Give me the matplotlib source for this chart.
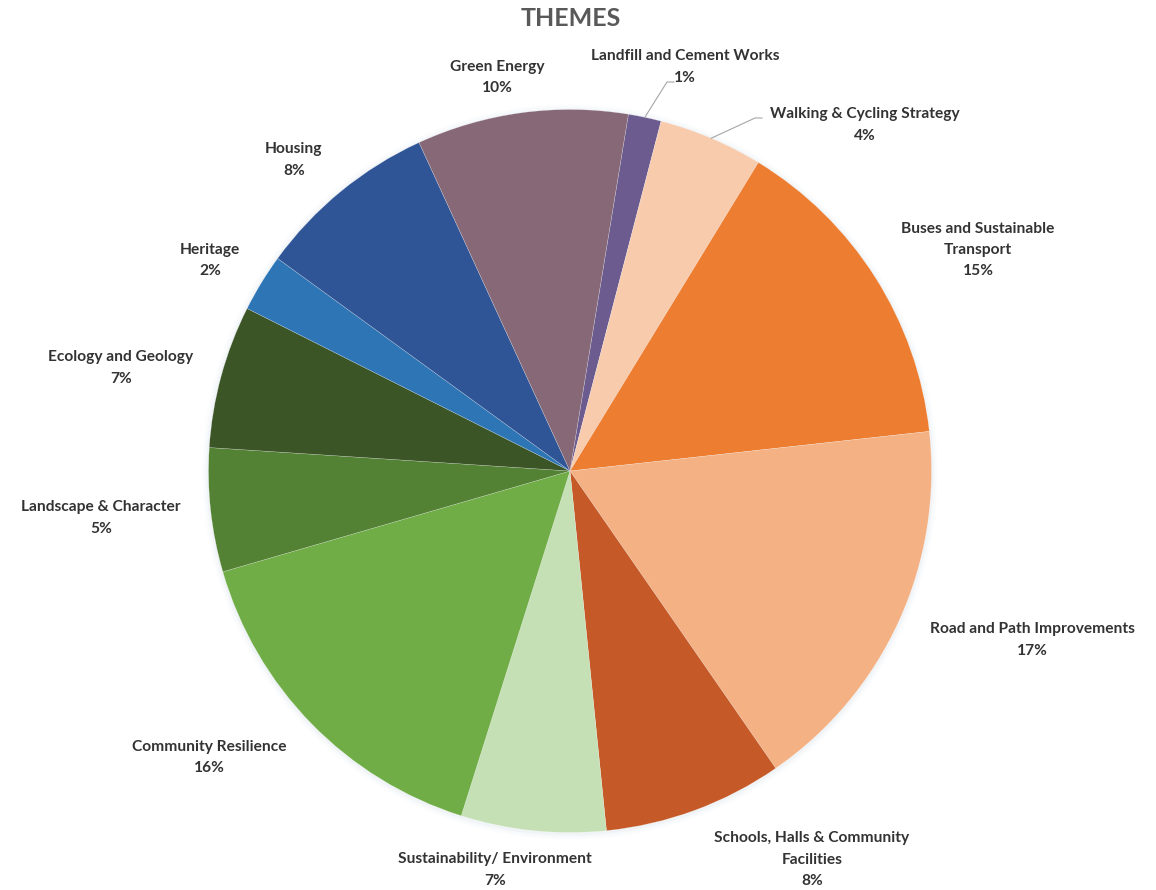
import numpy as np
import matplotlib
matplotlib.use("Agg")
import matplotlib.pyplot as plt

# ---- data (order clockwise from top) ----
categories = [
    "Landfill and Cement Works",
    "Walking & Cycling Strategy",
    "Buses and Sustainable\nTransport",
    "Road and Path Improvements",
    "Schools, Halls & Community\nFacilities",
    "Sustainability/ Environment",
    "Community Resilience",
    "Landscape & Character",
    "Ecology and Geology",
    "Heritage",
    "Housing",
    "Green Energy",
]
shares = [1.47, 4.67, 14.53, 17.11, 8.03, 6.47, 15.64, 5.53, 6.39, 2.58, 8.14, 9.44]
pct_labels = ["1%", "4%", "15%", "17%", "8%", "7%", "16%", "5%", "7%", "2%", "8%", "10%"]
colors = ["#6B5B8E", "#F8CBAD", "#ED7D31", "#F4B183", "#C55A28", "#C5E0B4",
          "#70AD47", "#548235", "#3B5526", "#2E75B6", "#2F5597", "#866877"]

# ---- layout (pixel positions, y measured from top) ----
W, H = 1156, 890
cx, cy, R = 570, 471, 361.5
start_offset = 9.3  # degrees clockwise from 12 o'clock where first slice starts
label_pos = [(685, 67), (865, 125), (978, 250), (1032, 640), (812, 859.5),
             (495, 870), (209, 757.5), (101, 518), (121, 368), (210, 260.5),
             (294, 160), (497, 77.5)]
leader_elbows = {0: [(667, 82), (674, 82)], 1: [(755, 118), (762, 118)]}

FONT = ["Lato", "DejaVu Sans"]
TXT = "#333333"

fig = plt.figure(figsize=(W / 100, H / 100), dpi=100)
ax = fig.add_axes([0, 0, 1, 1])
ax.set_xlim(0, W)
ax.set_ylim(0, H)
ax.set_aspect("equal")
ax.axis("off")

# soft shadow
for k, a in zip([6, 4, 2], [0.03, 0.04, 0.06]):
    ax.add_patch(plt.Circle((cx, H - cy - 1), R + k, color="#9fb3c8", alpha=a, lw=0, zorder=0))

wedges, _ = ax.pie(shares, colors=colors, startangle=90 - start_offset, counterclock=False,
                   center=(cx, H - cy), radius=R, frame=True,
                   wedgeprops=dict(edgecolor=(1, 1, 1, 0.45), linewidth=0.3))
ax.set_xlim(0, W)
ax.set_ylim(0, H)
ax.axis("off")

for i, (cat, pct) in enumerate(zip(categories, pct_labels)):
    x, y = label_pos[i]
    ax.text(x, H - y, f"{cat}\n{pct}", ha="center", va="center", multialignment="center",
            fontsize=11.2, fontweight="bold", color=TXT, family=FONT, linespacing=1.67)
    if i in leader_elbows:
        w = wedges[i]
        mid = np.deg2rad((w.theta1 + w.theta2) / 2)
        sx = w.center[0] + w.r * np.cos(mid)
        sy = w.center[1] + w.r * np.sin(mid)
        pts = [(sx, sy)] + [(px, H - py) for px, py in leader_elbows[i]]
        xs, ys = zip(*pts)
        ax.plot(xs, ys, color="#A6A6A6", lw=0.8, zorder=5)

ax.text(571, H - 18, "THEMES", ha="center", va="center", fontsize=18, fontweight="bold",
        color="#595959", family=FONT)

fig.savefig("out.png", dpi=100, facecolor="white")
